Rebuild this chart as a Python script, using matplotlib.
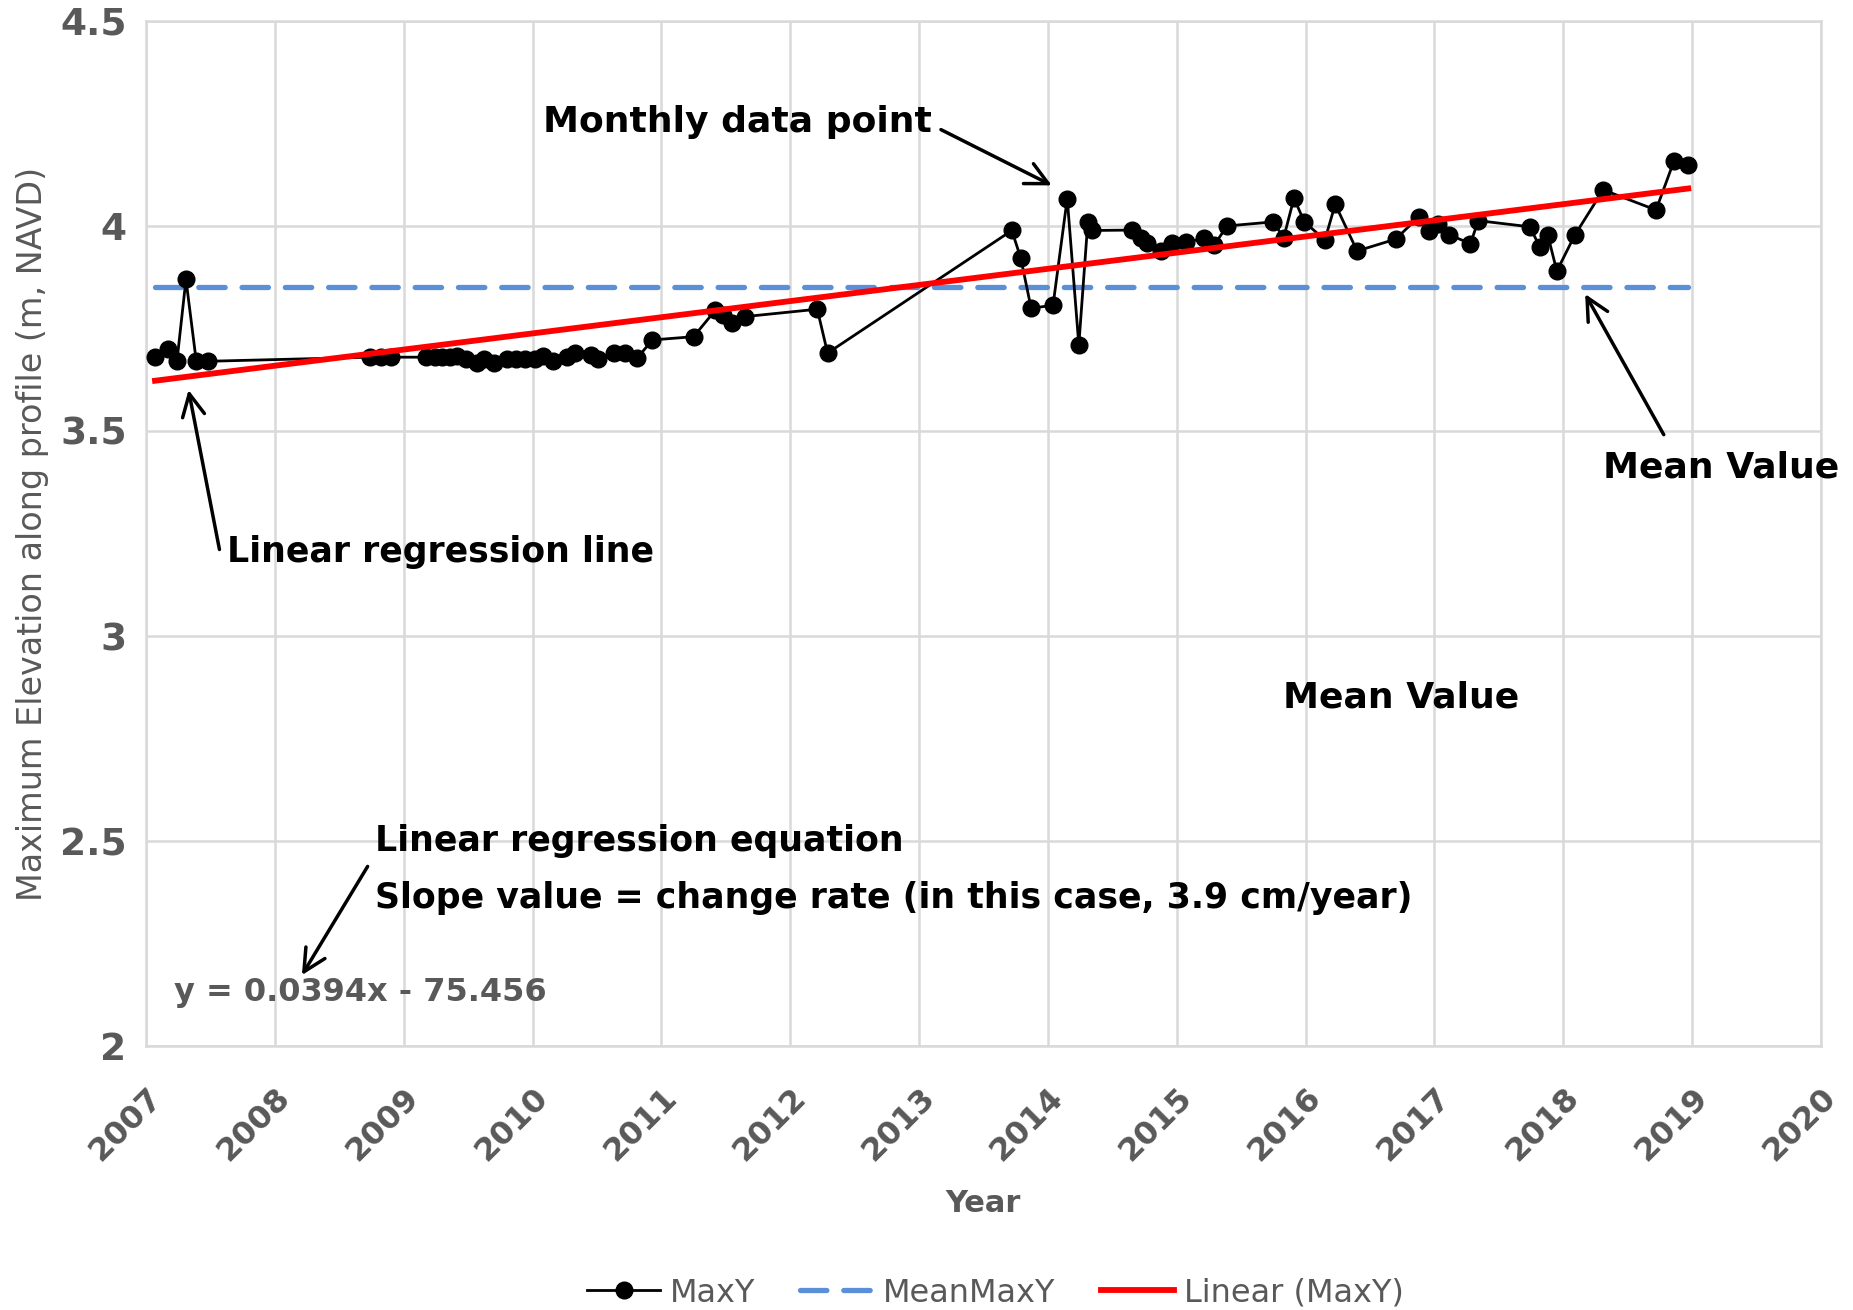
import matplotlib
matplotlib.use('Agg')
import matplotlib.pyplot as plt
import numpy as np

# monthly max elevation (decimal year, m NAVD)
years = [2007.07, 2007.17, 2007.24, 2007.31, 2007.39, 2007.48,
         2008.74, 2008.82, 2008.90,
         2009.17, 2009.24, 2009.30, 2009.36, 2009.41, 2009.48, 2009.57, 2009.62, 2009.70,
         2009.80, 2009.87, 2009.94, 2010.02, 2010.08, 2010.16, 2010.27, 2010.33, 2010.45,
         2010.51, 2010.63, 2010.72, 2010.81, 2010.93,
         2011.25, 2011.42, 2011.48, 2011.55, 2011.65, 2012.21, 2012.29,
         2013.72, 2013.79, 2013.87, 2014.04, 2014.15, 2014.24, 2014.31, 2014.34,
         2014.65, 2014.72, 2014.77, 2014.88, 2014.96, 2015.07, 2015.21, 2015.29, 2015.39,
         2015.75, 2015.83, 2015.91, 2015.99, 2016.15, 2016.23, 2016.40, 2016.70,
         2016.88, 2016.96, 2017.03, 2017.11, 2017.28, 2017.34,
         2017.74, 2017.82, 2017.88, 2017.95, 2018.09, 2018.31, 2018.72, 2018.86, 2018.97]
maxy = [3.68, 3.70, 3.67, 3.87, 3.67, 3.67,
        3.68, 3.68, 3.68,
        3.68, 3.68, 3.68, 3.68, 3.683, 3.675, 3.665, 3.675, 3.665,
        3.675, 3.675, 3.675, 3.675, 3.683, 3.67, 3.68, 3.69, 3.685,
        3.675, 3.69, 3.69, 3.677, 3.722,
        3.73, 3.795, 3.783, 3.763, 3.779, 3.797, 3.69,
        3.989, 3.921, 3.799, 3.807, 4.067, 3.71, 4.01, 3.989,
        3.99, 3.97, 3.959, 3.94, 3.959, 3.96, 3.97, 3.953, 4.0,
        4.01, 3.971, 4.068, 4.01, 3.966, 4.053, 3.939, 3.968,
        4.023, 3.988, 4.004, 3.979, 3.957, 4.013,
        3.998, 3.948, 3.978, 3.89, 3.978, 4.088, 4.039, 4.159, 4.149]
mean_maxy = 3.85
slope, intercept = 0.0394, -75.456

year_ticks = list(range(2007, 2021))
elev_ticks = [2, 2.5, 3, 3.5, 4, 4.5]

gray = '#595959'
fig = plt.figure(figsize=(18.53, 13.10), dpi=100)
ax = fig.add_axes([0.0788, 0.2015, 0.9039, 0.7825])

x = np.array(years)
xl = np.array([x.min(), x.max()])
ax.plot(x, maxy, color='black', lw=2, marker='o', ms=12, label='MaxY', zorder=4)
ax.plot(xl, [mean_maxy, mean_maxy], color='#5b8fd8', lw=3.8, dashes=(5, 3.2),
        dash_capstyle='round', label='MeanMaxY', zorder=3)
ax.plot(xl, slope * xl + intercept, color='#ff0000', lw=4.2, label='Linear (MaxY)', zorder=5)

ax.set_xlim(2007, 2020)
ax.set_ylim(2, 4.5)
ax.set_xticks(year_ticks)
ax.set_yticks(elev_ticks)
ax.set_yticklabels([f'{v:g}' for v in elev_ticks])
ax.grid(True, color='#d9d9d9', lw=1.8)
ax.set_axisbelow(True)
for s in ax.spines.values():
    s.set_color('#d9d9d9')
    s.set_linewidth(1.8)
ax.tick_params(length=0, colors=gray, labelsize=23)
ax.tick_params(axis='y', pad=14, labelsize=27)
ax.tick_params(axis='x', pad=26)
for lab in ax.get_xticklabels():
    lab.set_rotation(45)
    lab.set_ha('right')
    lab.set_rotation_mode('anchor')
    lab.set_fontweight('bold')
for lab in ax.get_yticklabels():
    lab.set_fontweight('bold')

ax.set_xlabel('Year', fontsize=22, fontweight='bold', color=gray)
ax.xaxis.set_label_coords(0.5, -0.139)
ax.set_ylabel('Maximum Elevation along profile (m, NAVD)', fontsize=24, color=gray)
ax.yaxis.set_label_coords(-0.058, 0.5)

tk = dict(fontsize=26, fontweight='bold', color='black')
tk2 = dict(fontsize=25, fontweight='bold', color='black')
arr = dict(arrowstyle='->', color='black', lw=2.5, mutation_scale=40,
           shrinkA=0, shrinkB=0)

ax.text(2013.1, 4.253, 'Monthly data point', ha='right', va='center', **tk)
ax.annotate('', xy=(2014.03, 4.099), xytext=(2013.17, 4.235), arrowprops=arr)

ax.text(2018.31, 3.41, 'Mean Value', ha='left', va='center', **tk)
ax.annotate('', xy=(2018.17, 3.834), xytext=(2018.78, 3.491), arrowprops=arr)

ax.text(2007.63, 3.205, 'Linear regression line', ha='left', va='center', **tk2)
ax.annotate('', xy=(2007.33, 3.60), xytext=(2007.57, 3.211), arrowprops=arr)

ax.text(2016.74, 2.85, 'Mean Value', ha='center', va='center', **tk)

ax.annotate('', xy=(2008.21, 2.173), xytext=(2008.72, 2.438), arrowprops=arr)
ax.text(2008.78, 2.5, 'Linear regression equation', ha='left', va='center', **tk2)
ax.text(2008.78, 2.362, 'Slope value = change rate (in this case, 3.9 cm/year)',
        ha='left', va='center', **tk2)
ax.text(2007.22, 2.13, f'y = {slope}x - {-intercept}', ha='left', va='center',
        fontsize=23, fontweight='bold', color=gray)

ax.legend(loc='center', bbox_to_anchor=(0.507, -0.241), ncol=3, frameon=False,
          fontsize=23, labelcolor=gray, handlelength=2.3, columnspacing=1.4,
          handletextpad=0.3)

fig.savefig('out.png', dpi=100)
